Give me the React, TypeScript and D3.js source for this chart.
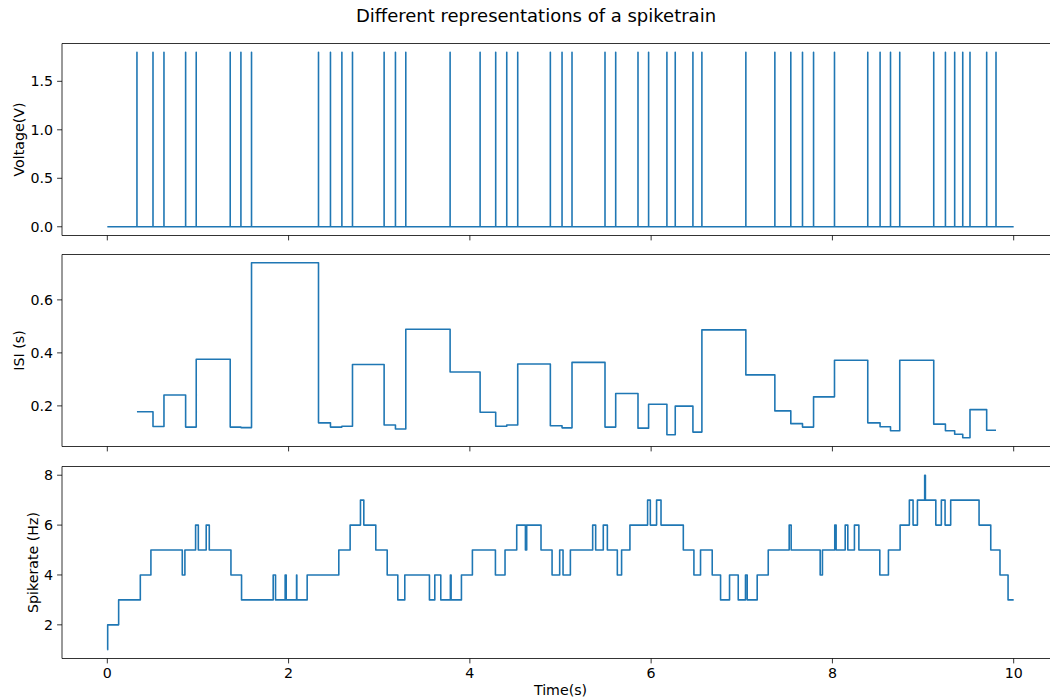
import React from "react";
import * as d3 from "d3";

const spikeTimes = [
  0.327, 0.504, 0.625, 0.864, 0.981, 1.356, 1.474, 1.591, 2.33, 2.462,
  2.588, 2.705, 3.054, 3.179, 3.293, 3.782, 4.113, 4.285, 4.407, 4.528,
  4.888, 5.017, 5.127, 5.491, 5.609, 5.855, 5.972, 6.174, 6.266, 6.461,
  6.56, 7.045, 7.365, 7.541, 7.67, 7.792, 8.023, 8.39, 8.526, 8.641,
  8.743, 9.118, 9.247, 9.349, 9.438, 9.518, 9.702, 9.805,
];
const spikePeak = 1.8;
const traceStart = 0;
const traceEnd = 10;

const isiValues = [
  0.178, 0.122, 0.241, 0.12, 0.376, 0.12, 0.118, 0.74, 0.136, 0.12,
  0.123, 0.356, 0.128, 0.113, 0.489, 0.328, 0.176, 0.123, 0.128, 0.358,
  0.125, 0.117, 0.364, 0.12, 0.247, 0.116, 0.206, 0.091, 0.199, 0.101,
  0.487, 0.317, 0.181, 0.133, 0.12, 0.234, 0.372, 0.136, 0.121, 0.106,
  0.372, 0.131, 0.106, 0.093, 0.08, 0.186, 0.108,
];

const rateTimes = [
  0, 0.004, 0.125, 0.364, 0.481, 0.827, 0.856, 0.974, 1.004, 1.091,
  1.125, 1.364, 1.481, 1.83, 1.856, 1.962, 1.974, 2.088, 2.091, 2.205,
  2.554, 2.679, 2.793, 2.83, 2.962, 3.088, 3.205, 3.282, 3.554, 3.613,
  3.679, 3.785, 3.793, 3.907, 4.028, 4.282, 4.388, 4.517, 4.613, 4.627,
  4.785, 4.907, 4.991, 5.028, 5.109, 5.355, 5.388, 5.472, 5.517, 5.627,
  5.674, 5.766, 5.961, 5.991, 6.06, 6.109, 6.355, 6.472, 6.545, 6.674,
  6.766, 6.865, 6.961, 7.041, 7.06, 7.17, 7.292, 7.523, 7.545, 7.865,
  7.89, 8.026, 8.041, 8.141, 8.17, 8.243, 8.292, 8.523, 8.618, 8.747,
  8.849, 8.89, 8.938, 9.018, 9.026, 9.141, 9.202, 9.243, 9.305, 9.618,
  9.747, 9.849, 9.938, 10.0,
];
const rateValues = [
  1, 2, 3, 4, 5, 4, 5, 6, 5, 6,
  5, 4, 3, 4, 3, 4, 3, 4, 3, 4,
  5, 6, 7, 6, 5, 4, 3, 4, 3, 4,
  3, 4, 3, 4, 5, 4, 5, 6, 5, 6,
  5, 4, 5, 4, 5, 6, 5, 6, 5, 4,
  5, 6, 7, 6, 7, 6, 5, 4, 5, 4,
  3, 4, 3, 4, 3, 4, 5, 6, 5, 4,
  5, 6, 5, 6, 5, 6, 5, 4, 5, 6,
  7, 6, 7, 8, 7, 6, 7, 6, 7, 6,
  5, 4, 3, 3,
];

const xTicks = [0, 2, 4, 6, 8, 10];
const voltTicks = [0, 0.5, 1.0, 1.5];
const isiTicks = [0.2, 0.4, 0.6];
const rateTicks = [2, 4, 6, 8];

const titleText = "Different representations of a spiketrain";
const xLabel = "Time(s)";

const W = 1050;
const H = 700;
const LEFT = 62;
const RIGHT = 1059;
const FONT = "'DejaVu Sans', sans-serif";
const BLUE = "#1f77b4";
const TICK_FS = 14.2;

const panels = [
  { top: 43.5, bottom: 235.5, domain: [-0.09, 1.89], ticks: voltTicks, fmt: ".1f", label: "Voltage(V)", labelX: 18.5 },
  { top: 254.5, bottom: 446.5, domain: [0.0467, 0.7713], ticks: isiTicks, fmt: ".1f", label: "ISI (s)", labelX: 18.5 },
  { top: 466.5, bottom: 658.5, domain: [0.65, 8.35], ticks: rateTicks, fmt: "d", label: "Spikerate (Hz)", labelX: 33 },
];

export default function App() {
  const x = d3.scaleLinear().domain([-0.5, 10.5]).range([LEFT, RIGHT]);
  const ys = panels.map((p) => d3.scaleLinear().domain(p.domain).range([p.bottom, p.top]));

  const vPts: [number, number][] = [[traceStart, 0]];
  spikeTimes.forEach((s) => {
    vPts.push([s, 0], [s, spikePeak], [s, 0]);
  });
  vPts.push([traceEnd, 0]);
  const vLine = d3
    .line<[number, number]>()
    .x((d) => x(d[0]))
    .y((d) => ys[0](d[1]));

  const isiPts: [number, number][] = isiValues.map((v, i) => [spikeTimes[i], v]);
  isiPts.push([spikeTimes[isiValues.length], isiValues[isiValues.length - 1]]);
  const isiLine = d3
    .line<[number, number]>()
    .x((d) => x(d[0]))
    .y((d) => ys[1](d[1]))
    .curve(d3.curveStepAfter);

  const ratePts: [number, number][] = rateTimes.map((t, i) => [t, rateValues[i]]);
  const rateLine = d3
    .line<[number, number]>()
    .x((d) => x(d[0]))
    .y((d) => ys[2](d[1]))
    .curve(d3.curveStepAfter);

  const paths = [vLine(vPts), isiLine(isiPts), rateLine(ratePts)];

  return (
    <svg
      width={W}
      height={H}
      style={{ position: "absolute", left: 0, top: 0, background: "#fff" }}
      fontFamily={FONT}
    >
      <rect x={0} y={0} width={W} height={H} fill="#fff" />
      <defs>
        {panels.map((p, i) => (
          <clipPath id={`clip${i}`} key={i}>
            <rect x={LEFT} y={p.top} width={RIGHT - LEFT} height={p.bottom - p.top} />
          </clipPath>
        ))}
      </defs>
      <text x={536} y={22} textAnchor="middle" fontSize={18} fill="#000">
        {titleText}
      </text>
      {panels.map((p, i) => {
        const y = ys[i];
        const f = d3.format(p.fmt);
        const midY = (p.top + p.bottom) / 2;
        return (
          <g key={i}>
            <path
              d={paths[i] || ""}
              fill="none"
              stroke={BLUE}
              strokeWidth={1.6}
              strokeLinejoin="round"
              clipPath={`url(#clip${i})`}
            />
            <line x1={LEFT} x2={RIGHT} y1={p.top} y2={p.top} stroke="#000" strokeWidth={0.8} />
            <line x1={LEFT} x2={RIGHT} y1={p.bottom} y2={p.bottom} stroke="#000" strokeWidth={0.8} />
            <line x1={LEFT} x2={LEFT} y1={p.top} y2={p.bottom} stroke="#000" strokeWidth={0.8} />
            {p.ticks.map((t) => (
              <g key={t}>
                <line
                  x1={LEFT - 4.9}
                  x2={LEFT}
                  y1={y(t)}
                  y2={y(t)}
                  stroke="#000"
                  strokeWidth={0.8}
                />
                <text
                  x={LEFT - 9}
                  y={y(t)}
                  dy="0.36em"
                  textAnchor="end"
                  fontSize={TICK_FS}
                  fill="#000"
                >
                  {f(t)}
                </text>
              </g>
            ))}
            {xTicks.map((t) => (
              <line
                key={t}
                x1={x(t)}
                x2={x(t)}
                y1={p.bottom}
                y2={p.bottom + 4.9}
                stroke="#000"
                strokeWidth={0.8}
              />
            ))}
            <text
              transform={`translate(${p.labelX},${midY}) rotate(-90)`}
              textAnchor="middle"
              dy="0.36em"
              fontSize={TICK_FS}
              fill="#000"
            >
              {p.label}
            </text>
          </g>
        );
      })}
      {xTicks.map((t) => (
        <text
          key={t}
          x={x(t)}
          y={678}
          textAnchor="middle"
          fontSize={TICK_FS}
          fill="#000"
        >
          {d3.format("d")(t)}
        </text>
      ))}
      <text x={(LEFT + RIGHT) / 2} y={695} textAnchor="middle" fontSize={TICK_FS} fill="#000">
        {xLabel}
      </text>
    </svg>
  );
}
